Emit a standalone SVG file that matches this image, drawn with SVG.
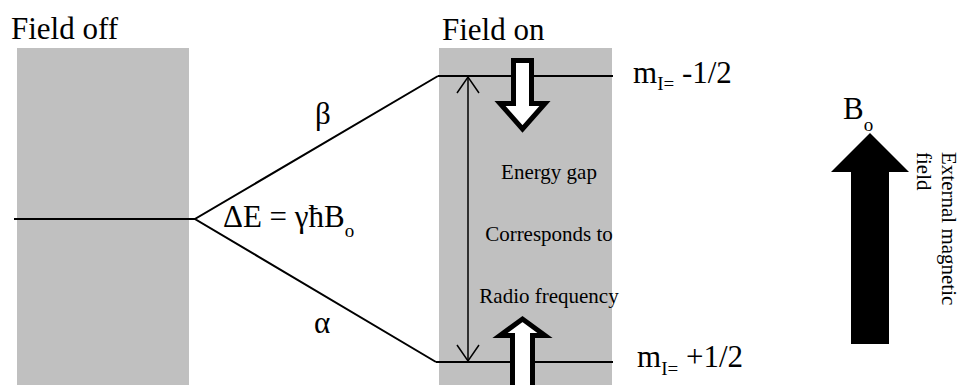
<svg xmlns="http://www.w3.org/2000/svg" width="961" height="385" viewBox="0 0 961 385">
<style>
.big{font-family:"Liberation Serif","Times New Roman",serif;font-size:31px;fill:#000}
.mid{font-family:"Liberation Serif","Times New Roman",serif;font-size:21px;fill:#000}
.sub{font-size:19px}
.panel{fill:#c0c0c0}
.ln{stroke:#000;stroke-width:2;fill:none}
.thin{stroke:#000;stroke-width:1.5;fill:none}
.hollow{fill:#fff;stroke:#000;stroke-width:5;stroke-linejoin:miter}
</style>
<rect width="961" height="385" fill="#fff"/>
<g id="field-off">
<rect class="panel" x="17" y="48" width="172" height="337"/>
<text class="big" x="11" y="39">Field off</text>
</g>
<g id="field-on">
<rect class="panel" x="439" y="48" width="173" height="337"/>
<text class="big" x="442" y="40">Field on</text>
</g>
<g id="connectors">
<line class="ln" x1="14" y1="219" x2="195" y2="219"/>
<polyline class="ln" points="438,76 195,219 436,362"/>
<line class="ln" x1="438" y1="76" x2="613" y2="76"/>
<line class="ln" x1="436" y1="362" x2="613" y2="362"/>
<line class="thin" x1="468" y1="77" x2="468" y2="361"/>
<polyline class="thin" points="457,93 468,77 479,93"/>
<polyline class="thin" points="457,345 468,361 479,345"/>
</g>
<g id="labels">
<text class="big" x="315" y="124">β</text>
<text class="big" x="314" y="333">α</text>
<text class="big" x="223" y="227">ΔE = γħB<tspan class="sub" dy="10">o</tspan></text>
</g>
<g id="level-upper">
<text class="big" x="633" y="83">m<tspan class="sub" dy="7">I=</tspan><tspan dy="-7"> -1/2</tspan></text>
</g>
<g id="level-lower">
<text class="big" x="637" y="367">m<tspan class="sub" dy="8">I=</tspan><tspan dy="-8"> +1/2</tspan></text>
</g>
<g id="spin-down-arrow">
<polygon class="hollow" points="513.5,60.5 531.5,60.5 531.5,103.5 545,103.5 522.5,129 500,103.5 513.5,103.5"/>
</g>
<g id="spin-up-arrow">
<polygon class="hollow" points="512.5,392 532.5,392 532.5,335.5 545,335.5 522.5,319 500,335.5 512.5,335.5"/>
</g>
<g id="gap-text">
<text class="mid" x="549" y="179" text-anchor="middle">Energy gap</text>
<text class="mid" x="549" y="241" text-anchor="middle">Corresponds to</text>
<text class="mid" x="549" y="303" text-anchor="middle">Radio frequency</text>
</g>
<g id="b-field">
<polygon fill="#000" points="870,133 909,172 889,172 889,344 851,344 851,172 831,172"/>
<text class="big" x="843" y="119">B<tspan class="sub" dy="12">o</tspan></text>
<text class="mid" transform="translate(942,152) rotate(90)">External magnetic</text>
<text class="mid" transform="translate(917,152) rotate(90)">field</text>
</g>
</svg>
